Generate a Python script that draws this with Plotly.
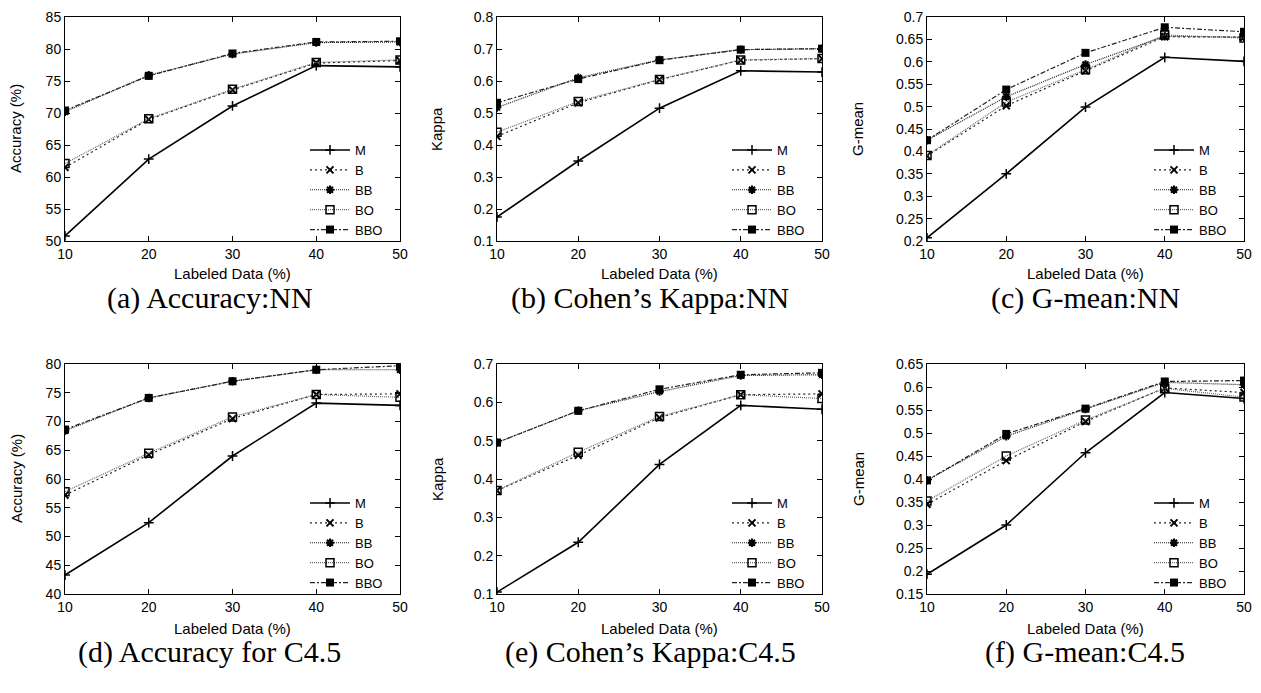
import plotly.graph_objects as go

# ---------------- data ----------------
labeled_pct = [10, 20, 30, 40, 50]
series_names = ["M", "B", "BB", "BO", "BBO"]

# (a) Accuracy : NN
acc_nn_m = [50.8, 62.8, 71.1, 77.4, 77.2]
acc_nn_b = [61.5, 69.0, 73.6, 77.8, 78.2]
acc_nn_bb = [70.2, 75.9, 79.2, 81.0, 81.1]
acc_nn_bo = [62.1, 69.1, 73.7, 77.9, 78.3]
acc_nn_bbo = [70.4, 75.8, 79.3, 81.1, 81.2]

# (b) Cohen's Kappa : NN
kap_nn_m = [0.175, 0.350, 0.515, 0.632, 0.628]
kap_nn_b = [0.427, 0.532, 0.604, 0.665, 0.670]
kap_nn_bb = [0.517, 0.610, 0.666, 0.698, 0.701]
kap_nn_bo = [0.440, 0.536, 0.605, 0.666, 0.670]
kap_nn_bbo = [0.532, 0.606, 0.665, 0.698, 0.701]

# (c) G-mean : NN
gm_nn_m = [0.207, 0.350, 0.499, 0.610, 0.601]
gm_nn_b = [0.390, 0.502, 0.580, 0.656, 0.655]
gm_nn_bb = [0.425, 0.522, 0.594, 0.657, 0.655]
gm_nn_bo = [0.391, 0.510, 0.582, 0.660, 0.653]
gm_nn_bbo = [0.425, 0.538, 0.620, 0.677, 0.667]

# (d) Accuracy : C4.5
acc_c45_m = [43.3, 52.4, 64.0, 73.2, 72.8]
acc_c45_b = [57.2, 64.2, 70.5, 74.7, 74.8]
acc_c45_bb = [68.4, 74.1, 77.0, 79.0, 79.0]
acc_c45_bo = [57.8, 64.5, 70.8, 74.7, 74.2]
acc_c45_bbo = [68.6, 74.1, 77.0, 79.0, 79.7]

# (e) Cohen's Kappa : C4.5
kap_c45_m = [0.105, 0.235, 0.438, 0.592, 0.582]
kap_c45_b = [0.370, 0.462, 0.560, 0.620, 0.622]
kap_c45_bb = [0.495, 0.578, 0.628, 0.670, 0.672]
kap_c45_bo = [0.370, 0.470, 0.563, 0.620, 0.610]
kap_c45_bbo = [0.495, 0.578, 0.634, 0.672, 0.677]

# (f) G-mean : C4.5
gm_c45_m = [0.193, 0.300, 0.457, 0.588, 0.575]
gm_c45_b = [0.345, 0.440, 0.525, 0.598, 0.588]
gm_c45_bb = [0.397, 0.493, 0.552, 0.610, 0.605]
gm_c45_bo = [0.352, 0.450, 0.528, 0.597, 0.578]
gm_c45_bbo = [0.397, 0.498, 0.553, 0.612, 0.614]

x_title = "Labeled Data (%)"
y_titles = ["Accuracy (%)", "Kappa", "G-mean", "Accuracy (%)", "Kappa", "G-mean"]
captions = ["(a) Accuracy:NN", "(b) Cohen\u2019s Kappa:NN", "(c) G-mean:NN",
            "(d) Accuracy for C4.5", "(e) Cohen\u2019s Kappa:C4.5", "(f) G-mean:C4.5"]
y_ranges = [(50, 85), (0.1, 0.8), (0.2, 0.7), (40, 80), (0.1, 0.7), (0.15, 0.65)]
y_dticks = [5, 0.1, 0.05, 5, 0.1, 0.05]

panel_data = [
    [acc_nn_m, acc_nn_b, acc_nn_bb, acc_nn_bo, acc_nn_bbo],
    [kap_nn_m, kap_nn_b, kap_nn_bb, kap_nn_bo, kap_nn_bbo],
    [gm_nn_m, gm_nn_b, gm_nn_bb, gm_nn_bo, gm_nn_bbo],
    [acc_c45_m, acc_c45_b, acc_c45_bb, acc_c45_bo, acc_c45_bbo],
    [kap_c45_m, kap_c45_b, kap_c45_bb, kap_c45_bo, kap_c45_bbo],
    [gm_c45_m, gm_c45_b, gm_c45_bb, gm_c45_bo, gm_c45_bbo],
]

# ---------------- styles ----------------
PAGE_OFF = 8            # default body margin of the html page
W, H = 1261 - PAGE_OFF, 693 - PAGE_OFF
SANS = "Liberation Sans, Arial, sans-serif"
SERIF = "Liberation Serif, Times New Roman, serif"

line_styles = {
    "M": dict(color="black", width=1.6, dash="solid"),
    "B": dict(color="#222222", width=1.2, dash="2px,3px"),
    "BB": dict(color="#222222", width=1.2, dash="1px,1px"),
    "BO": dict(color="#666666", width=1.2, dash="1px,1px"),
    "BBO": dict(color="#222222", width=1.2, dash="5px,2px,2px,2px"),
}
marker_styles = {
    "M": dict(symbol="cross-thin", size=7, line=dict(color="black", width=1.5), color="black"),
    "B": dict(symbol="x-thin", size=7, line=dict(color="black", width=2), color="black"),
    "BB": dict(symbol="asterisk", size=7, line=dict(color="black", width=2), color="black"),
    "BO": dict(symbol="square-open", size=8, line=dict(color="black", width=1.5), color="black"),
    "BBO": dict(symbol="square", size=8, line=dict(color="black", width=0), color="black"),
}

# plot-area geometry (page pixels)
col_x = [(65, 400), (497, 822), (927, 1244)]
row_y = [(17, 241), (364, 594)]
ytitle_x = [16, 437, 858]
caption_cx = [210, 650, 1085]
caption_y = [298, 652]
xtitle_y = [273, 628]


def px_x(v):
    return (v - PAGE_OFF) / W


def px_y(v):
    return 1 - (v - PAGE_OFF) / H


fig = go.Figure()
layout = dict(
    template=go.layout.Template(),
    width=W, height=H,
    margin=dict(l=0, r=0, t=0, b=0, pad=0),
    paper_bgcolor="white", plot_bgcolor="white",
    font=dict(family=SANS, size=14, color="black"),
    showlegend=True,
)
annotations = []

for p in range(6):
    r, c = divmod(p, 3)
    ax = "" if p == 0 else str(p + 1)
    leg = "legend" if p == 0 else f"legend{p + 1}"
    for name, yv in zip(series_names, panel_data[p]):
        fig.add_trace(go.Scatter(
            x=labeled_pct, y=yv, name=name, mode="lines+markers",
            line=line_styles[name], marker=marker_styles[name],
            xaxis="x" + ax, yaxis="y" + ax, legend=leg,
        ))
    x0, x1 = col_x[c]
    yt, yb = row_y[r]
    common = dict(showgrid=False, zeroline=False, showline=True, linecolor="black",
                  linewidth=1, mirror="ticks", ticks="inside", ticklen=5,
                  tickcolor="black", tickwidth=1, automargin=False,
                  ticklabeloverflow="allow",
                  tickfont=dict(family=SANS, size=14, color="black"))
    layout["xaxis" + ax] = dict(common, domain=[px_x(x0), px_x(x1)], range=[10, 50],
                                tickmode="linear", tick0=10, dtick=10,
                                anchor="y" + ax)
    layout["yaxis" + ax] = dict(common, domain=[px_y(yb), px_y(yt)],
                                range=list(y_ranges[p]), tickmode="linear",
                                tick0=y_ranges[p][0], dtick=y_dticks[p],
                                tickformat="~r" if y_dticks[p] < 1 else "d",
                                anchor="x" + ax)
    layout[leg] = dict(x=px_x(x1 - 12), y=px_y(yb + 4), xanchor="right", yanchor="bottom",
                       xref="paper", yref="paper", bgcolor="rgba(0,0,0,0)",
                       font=dict(family=SANS, size=13),
                       tracegroupgap=0, itemwidth=40)
    # axis titles
    annotations.append(dict(text=x_title, x=px_x((x0 + x1) / 2), y=px_y(xtitle_y[r]),
                            xref="paper", yref="paper", showarrow=False,
                            xanchor="center", yanchor="middle", borderpad=0,
                            font=dict(family=SANS, size=15)))
    annotations.append(dict(text=y_titles[p], x=px_x(ytitle_x[c]), y=px_y((yt + yb) / 2),
                            xref="paper", yref="paper", showarrow=False, textangle=-90,
                            xanchor="center", yanchor="middle", borderpad=0,
                            font=dict(family=SANS, size=15)))
    annotations.append(dict(text=captions[p], x=px_x(caption_cx[c]), y=px_y(caption_y[r]),
                            xref="paper", yref="paper", showarrow=False,
                            xanchor="center", yanchor="middle", borderpad=0,
                            font=dict(family=SERIF, size=30)))

layout["annotations"] = annotations
fig.update_layout(**layout)
fig.write_html("out.html")
